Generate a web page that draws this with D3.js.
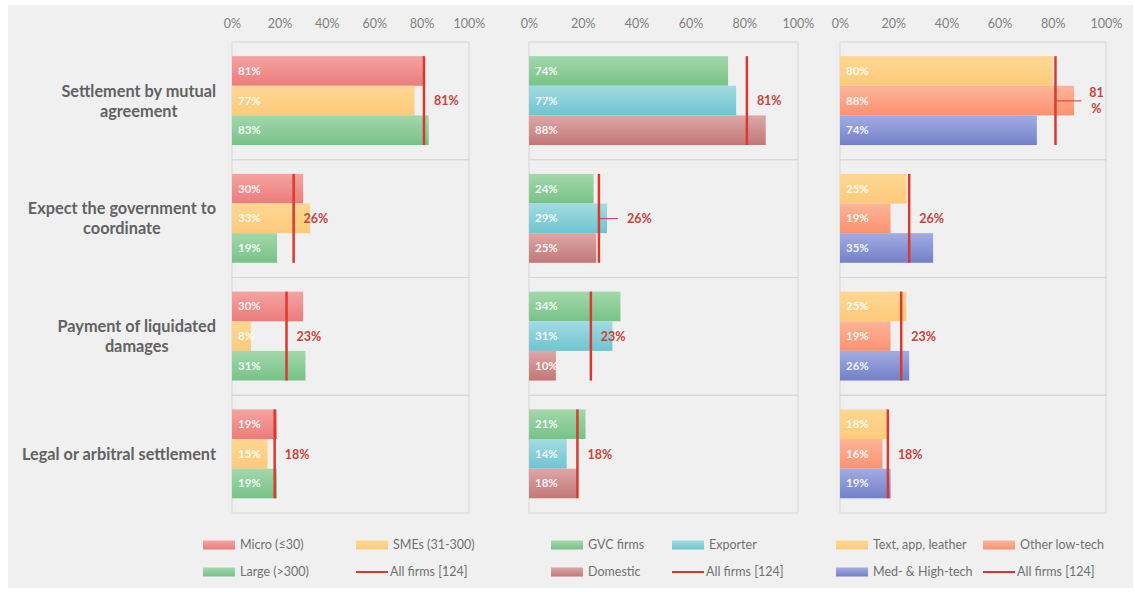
<!DOCTYPE html>
<html><head><meta charset="utf-8">
<script src="https://cdn.jsdelivr.net/npm/d3@7"></script>
<style>
body{margin:0;background:#fff;}
svg{display:block;font-family:Lato,"Open Sans",sans-serif;}
</style>
</head><body>
<svg id="c" width="1135" height="592"></svg>
<script>
// ---------- DATA ----------
const categories = ["Settlement by mutual agreement", "Expect the government to coordinate", "Payment of liquidated damages", "Legal or arbitral settlement"];
const categoryLines = [["Settlement by mutual", "agreement"], ["Expect the government to", "coordinate"], ["Payment of liquidated", "damages"], ["Legal or arbitral settlement"]];
const tickValues = [0, 0.2, 0.4, 0.6, 0.8, 1.0];

const sizeSeries = ["Micro (≤30)", "SMEs (31-300)", "Large (>300)"];
const sizeValues = [[81, 30, 30, 19], [77, 33, 8, 15], [83, 19, 31, 19]];

const tradeSeries = ["GVC firms", "Exporter", "Domestic"];
const tradeValues = [[74, 24, 34, 21], [77, 29, 31, 14], [88, 25, 10, 18]];

const techSeries = ["Text, app, leather", "Other low-tech", "Med- & High-tech"];
const techValues = [[80, 25, 25, 18], [88, 19, 19, 16], [74, 35, 26, 19]];

const allFirms = [81, 26, 23, 18];
const allFirmsName = "All firms [124]";

// ---------- STYLE / LAYOUT ----------
const grad = {
  micro: ["#f4a3a1", "#ec7c7b"], sme: ["#fed793", "#fdca7a"], large: ["#a3d7ab", "#78c288"],
  exporter: ["#a3dbe2", "#6fc4d0"], domestic: ["#dea7a7", "#c27777"],
  text: ["#fed793", "#fdca7a"], other: ["#fdb498", "#fb9271"], med: ["#a3ace1", "#7280c9"]
};
const panels = [
  {series: sizeSeries, values: sizeValues, keys: ["micro", "sme", "large"], range: [232, 469], legendX: [203, 356]},
  {series: tradeSeries, values: tradeValues, keys: ["large", "exporter", "domestic"], range: [529, 798], legendX: [551, 672]},
  {series: techSeries, values: techValues, keys: ["text", "other", "med"], range: [840, 1106], legendX: [836, 983]}
];
const labelSpecial = {"1-1": {dx: 28, leader: 19}, "2-0": {dx: 41, leader: 26, wrap: true}};
const plotTop = 42, plotBottom = 513;
const red = "#d93a30", redText = "#c8433b";

const svg = d3.select("#c");
svg.append("rect").attr("x", 8).attr("y", 5).attr("width", 1125).attr("height", 583).attr("fill", "#f0f0f0");

const defs = svg.append("defs");
Object.entries(grad).forEach(([k, c]) => {
  const g = defs.append("linearGradient").attr("id", "g-" + k).attr("x1", 0).attr("y1", 0).attr("x2", 0).attr("y2", 1);
  g.append("stop").attr("offset", "0%").attr("stop-color", c[0]);
  g.append("stop").attr("offset", "100%").attr("stop-color", c[1]);
});

const y = d3.scaleBand().domain(categories).range([plotTop, plotBottom]).padding(0);
const rowH = y.bandwidth();

// category labels
categories.forEach((cat, i) => {
  const lines = categoryLines[i];
  const g = svg.append("g");
  const cy = y(cat) + rowH / 2;
  const texts = lines.map((l, j) => g.append("text")
    .attr("y", cy + (j - (lines.length - 1) / 2) * 20)
    .attr("dy", "0.35em").attr("text-anchor", "middle")
    .attr("font-size", 16.3).attr("font-weight", 700).attr("fill", "#626262").text(l));
  const maxW = d3.max(texts, t => t.node().getComputedTextLength());
  texts.forEach(t => t.attr("x", 216 - maxW / 2));
});

panels.forEach((p, pi) => {
  const x = d3.scaleLinear().domain([0, 1]).range(p.range);
  const g = svg.append("g");
  // axis on top
  const ax = g.append("g").attr("transform", `translate(0,${24})`)
    .call(d3.axisTop(x).tickValues(tickValues).tickFormat(d3.format(".0%")).tickSize(0).tickPadding(0));
  ax.select(".domain").remove();
  ax.selectAll("text").attr("font-size", 12.5).attr("fill", "#808080").attr("dy", "0.35em")
    .attr("font-family", "Lato,'Open Sans',sans-serif");
  // panel grid box
  categories.forEach(cat => {
    g.append("rect").attr("x", x(0)).attr("y", y(cat)).attr("width", x(1) - x(0)).attr("height", rowH)
      .attr("fill", "none").attr("stroke", "#d6d6d6").attr("stroke-width", 1);
  });
  const inner = d3.scaleBand().domain(p.series).range([rowH * 0.12, rowH * 0.875]).padding(0);
  // bars
  p.series.forEach((s, si) => {
    p.values[si].forEach((v, ci) => {
      const by = y(categories[ci]) + inner(s);
      g.append("rect").attr("x", x(0)).attr("y", by).attr("width", x(v / 100) - x(0)).attr("height", inner.bandwidth())
        .attr("fill", `url(#g-${p.keys[si]})`);
      g.append("text").attr("x", x(0) + 6).attr("y", by + inner.bandwidth() / 2).attr("dy", "0.35em")
        .attr("font-size", 11.5).attr("font-weight", 700).attr("fill", "#fff").attr("fill-opacity", 0.9)
        .text(v + "%");
    });
  });
  // all firms line + label
  allFirms.forEach((v, ci) => {
    const ry = y(categories[ci]);
    const lx = x(v / 100);
    g.append("line").attr("x1", lx).attr("x2", lx)
      .attr("y1", ry + inner(p.series[0])).attr("y2", ry + inner(p.series[2]) + inner.bandwidth())
      .attr("stroke", red).attr("stroke-width", 2.5);
    const sp = labelSpecial[pi + "-" + ci];
    const cy = ry + rowH / 2;
    if (sp) {
      g.append("line").attr("x1", lx).attr("x2", lx + sp.leader).attr("y1", cy).attr("y2", cy)
        .attr("stroke", red).attr("stroke-width", 1);
      if (sp.wrap) {
        g.append("text").attr("x", lx + sp.dx).attr("y", cy - 8).attr("dy", "0.35em").attr("text-anchor", "middle")
          .attr("font-size", 12.5).attr("font-weight", 700).attr("fill", redText).text(String(v));
        g.append("text").attr("x", lx + sp.dx).attr("y", cy + 8).attr("dy", "0.35em").attr("text-anchor", "middle")
          .attr("font-size", 12.5).attr("font-weight", 700).attr("fill", redText).text("%");
      } else {
        g.append("text").attr("x", lx + sp.dx).attr("y", cy).attr("dy", "0.35em")
          .attr("font-size", 12.5).attr("font-weight", 700).attr("fill", redText).text(v + "%");
      }
    } else {
      g.append("text").attr("x", lx + 10).attr("y", cy).attr("dy", "0.35em")
        .attr("font-size", 12.5).attr("font-weight", 700).attr("fill", redText).text(v + "%");
    }
  });
  // legend
  const items = [
    {name: p.series[0], key: p.keys[0], col: 0, row: 0},
    {name: p.series[1], key: p.keys[1], col: 1, row: 0},
    {name: p.series[2], key: p.keys[2], col: 0, row: 1},
    {name: allFirmsName, line: true, col: 1, row: 1}
  ];
  items.forEach(it => {
    const lx = p.legendX[it.col], ly = it.row === 0 ? 545 : 572;
    if (it.line) {
      g.append("line").attr("x1", lx).attr("x2", lx + 32).attr("y1", ly).attr("y2", ly).attr("stroke", red).attr("stroke-width", 2);
    } else {
      g.append("rect").attr("x", lx).attr("y", ly - 4.5).attr("width", 32).attr("height", 9).attr("fill", `url(#g-${it.key})`);
    }
    g.append("text").attr("x", lx + (it.line ? 34 : 37)).attr("y", ly).attr("dy", "0.35em")
      .attr("font-size", 12.5).attr("fill", "#707070").text(it.name);
  });
});
</script>
</body></html>
